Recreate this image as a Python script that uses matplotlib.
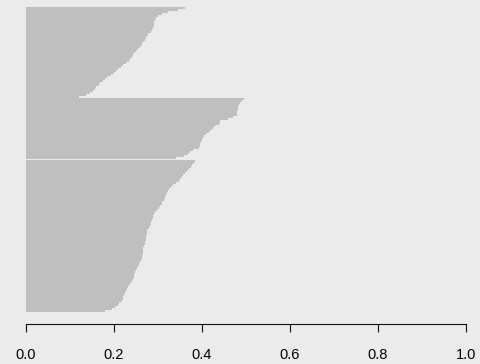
import numpy as np
import matplotlib.pyplot as plt

plt.rcParams['font.family'] = ['Liberation Sans', 'DejaVu Sans']

# silhouette widths per cluster, sorted (top to bottom)
cluster1 = [0.361, 0.345, 0.323, 0.310, 0.300, 0.296, 0.293, 0.292, 0.291, 0.290,
            0.288, 0.286, 0.284, 0.278, 0.276, 0.273, 0.270, 0.266, 0.263, 0.258,
            0.254, 0.249, 0.246, 0.243, 0.240, 0.237, 0.233, 0.228, 0.220, 0.215,
            0.210, 0.205, 0.200, 0.194, 0.185, 0.180, 0.174, 0.169, 0.165, 0.160,
            0.156, 0.152, 0.145, 0.136, 0.120]
cluster2 = [0.495, 0.490, 0.486, 0.484, 0.482, 0.481, 0.480, 0.480, 0.479, 0.470,
            0.460, 0.440, 0.438, 0.430, 0.424, 0.420, 0.415, 0.410, 0.405, 0.402,
            0.400, 0.398, 0.396, 0.395, 0.394, 0.380, 0.372, 0.368, 0.360, 0.342]
cluster3 = [0.385, 0.381, 0.378, 0.376, 0.370, 0.365, 0.362, 0.357, 0.355, 0.350,
            0.347, 0.340, 0.333, 0.330, 0.326, 0.323, 0.320, 0.318, 0.316, 0.313,
            0.310, 0.308, 0.305, 0.302, 0.298, 0.294, 0.291, 0.289, 0.288, 0.287,
            0.285, 0.284, 0.282, 0.279, 0.276, 0.275, 0.274, 0.273, 0.272, 0.272,
            0.271, 0.270, 0.269, 0.267, 0.266, 0.266, 0.265, 0.264, 0.263, 0.262,
            0.260, 0.257, 0.255, 0.253, 0.250, 0.248, 0.246, 0.245, 0.243, 0.241,
            0.238, 0.235, 0.232, 0.230, 0.228, 0.225, 0.223, 0.221, 0.220, 0.218,
            0.212, 0.208, 0.202, 0.195, 0.180]
clusters = [cluster1, cluster2, cluster3]
gaps = [0.0, 0.5]  # space before cluster 2 and 3

xticks = [0.0, 0.2, 0.4, 0.6, 0.8, 1.0]
xticklabels = ['0.0', '0.2', '0.4', '0.6', '0.8', '1.0']

bg = '#EBEBEB'
fig = plt.figure(figsize=(4.8, 3.64), dpi=100, facecolor=bg)
ax = fig.add_axes([26 / 480, 52 / 364, 440 / 480, 305 / 364])
ax.set_facecolor(bg)

pos, vals = [], []
y = 0.0
for k, c in enumerate(clusters):
    if k > 0:
        y += gaps[k - 1]
    for v in c:
        pos.append(y + 0.5)
        vals.append(v)
        y += 1

ax.barh(pos, vals, height=1.0, color='#BFBFBF', linewidth=0, antialiased=False)
ax.set_ylim(y, 0)
ax.set_xlim(0, 1)

for s in ['top', 'right', 'left']:
    ax.spines[s].set_visible(False)
ax.spines['bottom'].set_position(('outward', 8.6))
ax.spines['bottom'].set_bounds(0, 1)
ax.spines['bottom'].set_linewidth(0.8)
ax.spines['bottom'].set_color('#111111')

ax.set_yticks([])
ax.set_xticks(xticks)
ax.set_xticklabels(xticklabels)
ax.tick_params(axis='x', length=5.8, width=0.8, color='#111111', pad=11.5, labelsize=10.5)

fig.savefig('out.png', dpi=100, facecolor=bg)
